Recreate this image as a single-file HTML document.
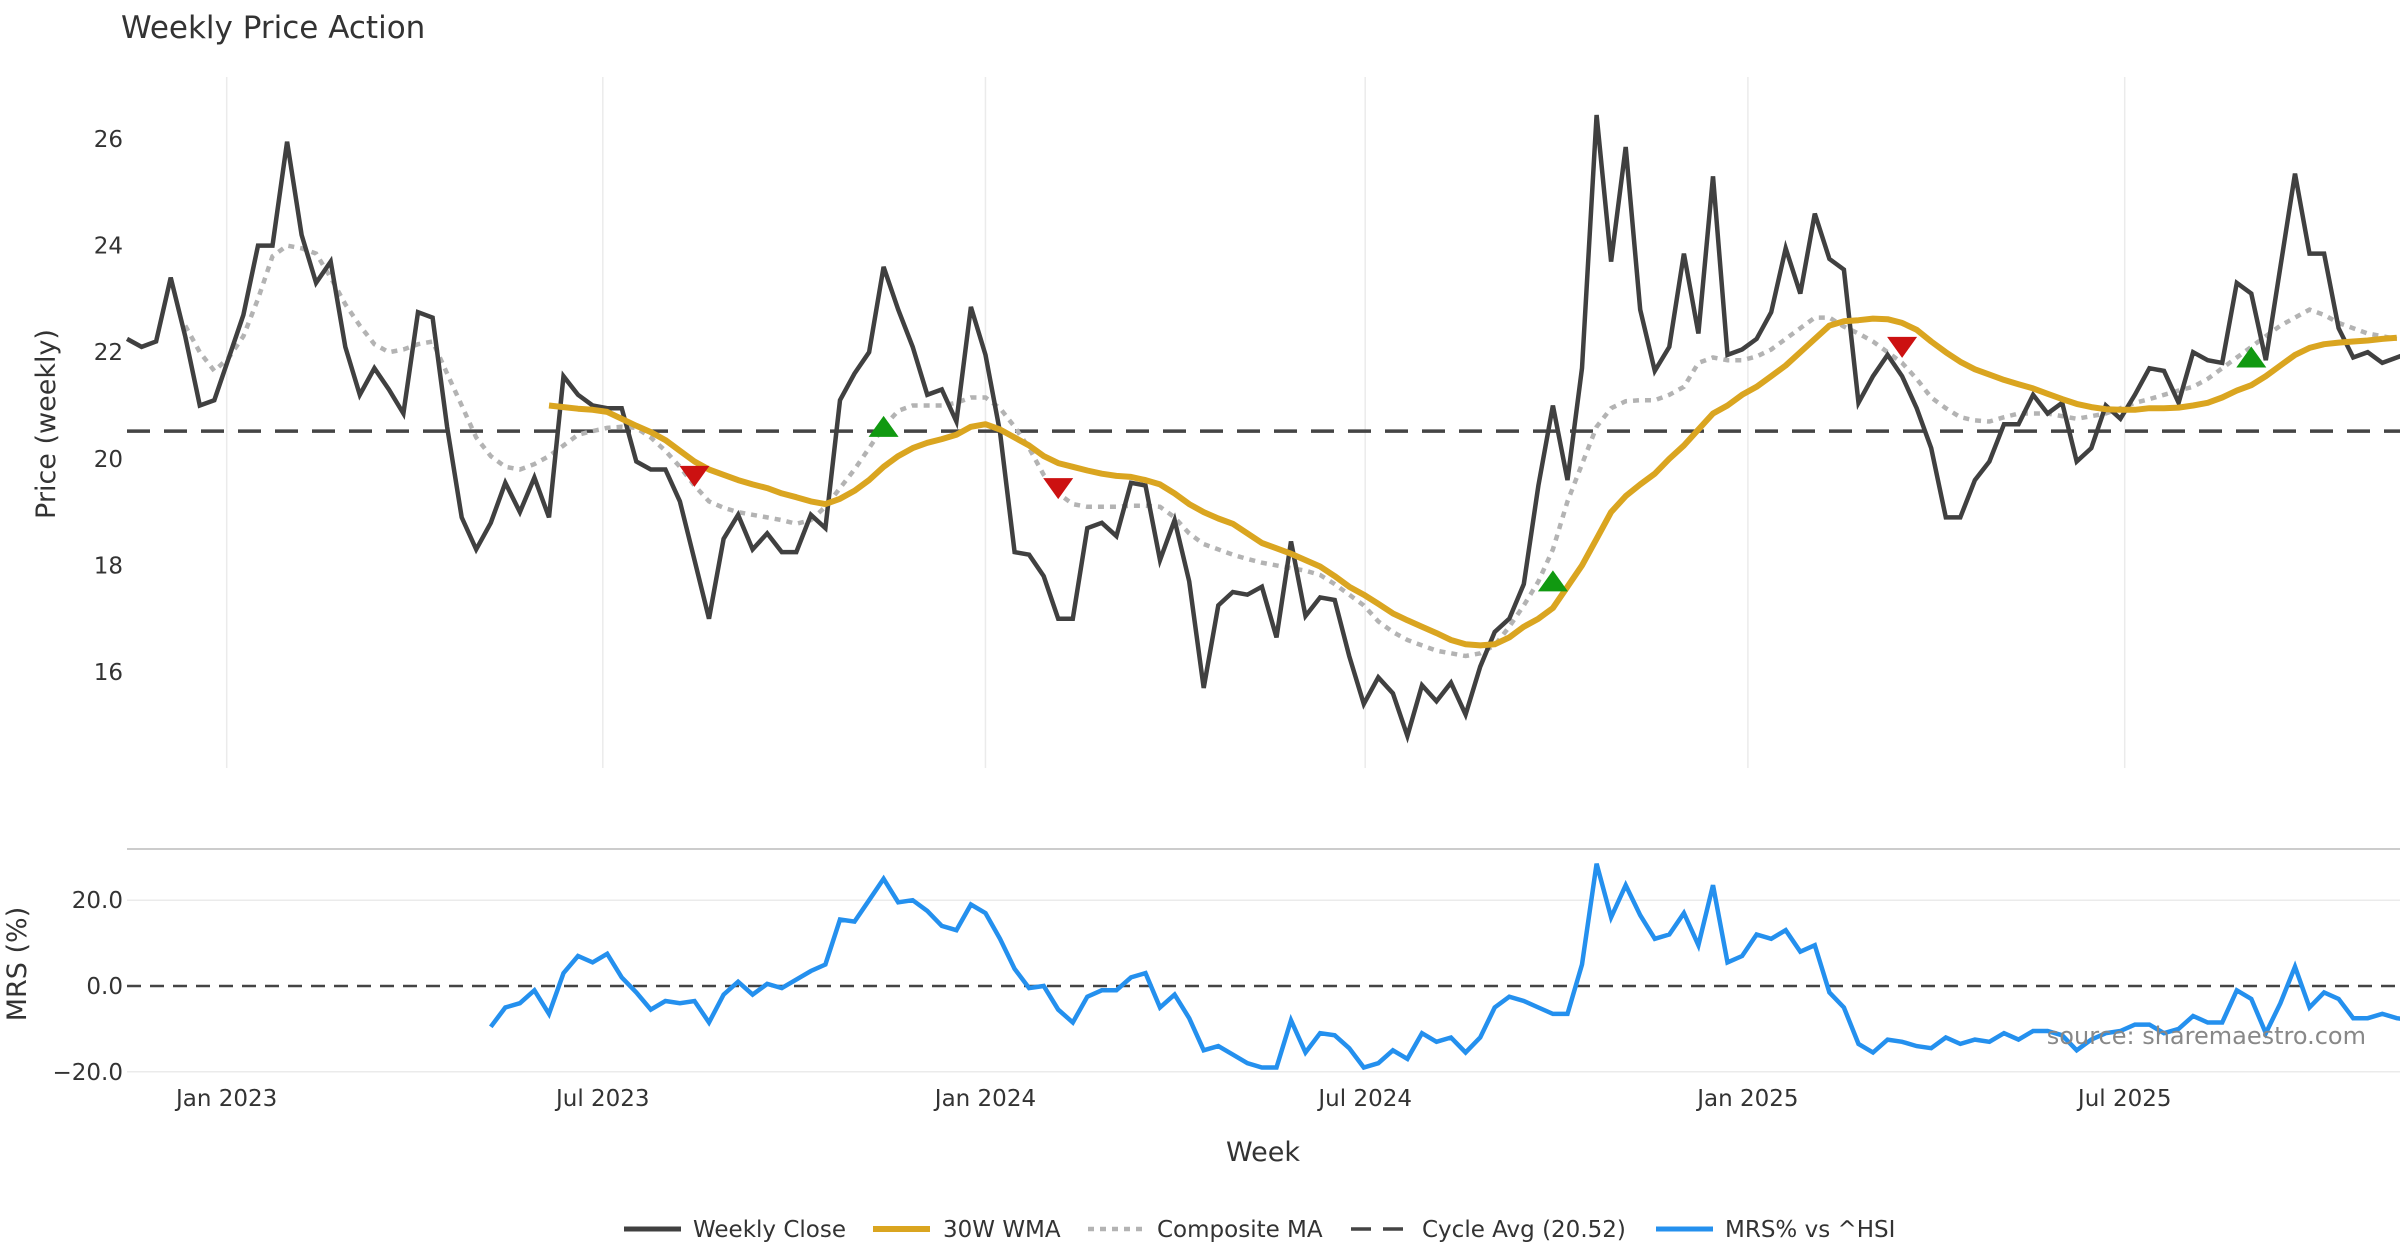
<!DOCTYPE html>
<html><head><meta charset="utf-8"><style>
html,body{margin:0;padding:0;background:#fff;}
svg{display:block;font-family:"DejaVu Sans","Liberation Sans",sans-serif;}
</style></head><body>
<svg id="chart" width="2400" height="1260" viewBox="0 0 2400 1260" xmlns="http://www.w3.org/2000/svg">
<text x="121" y="38" font-size="31" fill="#333">Weekly Price Action</text>
<g id="grid"></g><g id="series"></g><g id="axes"></g>
</svg>
<script>
const closeVals=[22.25,22.1,22.2,23.4,22.3,21.0,21.1,21.9,22.7,24.0,24.0,25.95,24.2,23.3,23.7,22.1,21.2,21.7,21.3,20.85,22.75,22.65,20.6,18.9,18.3,18.8,19.55,19.0,19.65,18.9,21.55,21.2,21.0,20.95,20.95,19.95,19.8,19.8,19.2,18.1,17.0,18.5,18.95,18.3,18.6,18.25,18.25,18.95,18.7,21.1,21.6,22.0,23.6,22.8,22.1,21.2,21.3,20.7,22.85,21.95,20.5,18.25,18.2,17.8,17.0,17.0,18.7,18.8,18.55,19.55,19.5,18.1,18.85,17.7,15.7,17.25,17.5,17.45,17.6,16.65,18.45,17.05,17.4,17.35,16.3,15.4,15.9,15.6,14.8,15.75,15.45,15.8,15.2,16.1,16.75,17.0,17.65,19.5,21.0,19.6,21.7,26.45,23.7,25.85,22.8,21.65,22.1,23.85,22.35,25.3,21.95,22.05,22.25,22.75,23.95,23.1,24.6,23.75,23.55,21.05,21.55,21.95,21.55,20.95,20.2,18.9,18.9,19.6,19.95,20.65,20.65,21.2,20.85,21.05,19.95,20.2,21.0,20.75,21.2,21.7,21.65,21.05,22.0,21.85,21.8,23.3,23.1,21.85,23.6,25.35,23.85,23.85,22.45,21.9,22.0,21.8,21.9,22.0];
const wmaStart=29;
const wmaVals=[21.0,20.97,20.94,20.92,20.88,20.75,20.62,20.5,20.35,20.15,19.95,19.8,19.7,19.6,19.52,19.45,19.35,19.28,19.2,19.15,19.25,19.4,19.6,19.85,20.05,20.2,20.3,20.37,20.45,20.6,20.65,20.55,20.4,20.25,20.05,19.92,19.85,19.78,19.72,19.68,19.66,19.6,19.52,19.35,19.15,19.0,18.88,18.78,18.6,18.42,18.32,18.22,18.1,17.98,17.8,17.6,17.45,17.28,17.1,16.97,16.85,16.73,16.6,16.52,16.5,16.52,16.65,16.85,17.0,17.2,17.6,18.0,18.5,19.0,19.3,19.52,19.72,20.0,20.25,20.55,20.85,21.0,21.2,21.35,21.55,21.75,22.0,22.25,22.5,22.58,22.6,22.63,22.62,22.55,22.42,22.2,22.0,21.82,21.68,21.58,21.48,21.4,21.32,21.22,21.12,21.03,20.97,20.93,20.92,20.92,20.95,20.95,20.96,21.0,21.05,21.15,21.28,21.38,21.55,21.75,21.95,22.08,22.15,22.18,22.2,22.22,22.25,22.27];
const compStart=4;
const compVals=[22.5,22.0,21.65,21.9,22.3,23.0,23.8,24.0,23.95,23.85,23.4,22.9,22.5,22.15,22.0,22.05,22.15,22.2,21.6,21.0,20.4,20.05,19.85,19.8,19.9,20.05,20.25,20.45,20.52,20.58,20.6,20.58,20.4,20.15,19.85,19.5,19.2,19.08,19.0,18.95,18.9,18.85,18.78,18.85,19.1,19.45,19.8,20.2,20.6,20.9,21.0,21.0,21.0,21.05,21.15,21.15,20.95,20.6,20.2,19.7,19.35,19.15,19.1,19.1,19.1,19.12,19.12,19.1,18.9,18.6,18.4,18.3,18.2,18.12,18.05,18.0,17.95,17.9,17.82,17.65,17.45,17.25,16.95,16.75,16.6,16.5,16.4,16.35,16.3,16.35,16.5,16.85,17.25,17.7,18.3,19.2,19.9,20.6,20.95,21.08,21.1,21.1,21.2,21.35,21.8,21.9,21.85,21.85,21.92,22.05,22.25,22.45,22.65,22.65,22.48,22.35,22.2,22.0,21.8,21.5,21.15,20.95,20.78,20.72,20.7,20.78,20.85,20.85,20.85,20.8,20.75,20.8,20.85,20.95,21.05,21.12,21.2,21.28,21.35,21.5,21.7,21.9,22.1,22.3,22.5,22.65,22.8,22.7,22.55,22.45,22.35,22.3,22.25];
const cycleAvg=20.52;
const mrsStart=25;
const mrsVals=[-9.5,-5,-4,-1,-6.5,3,7,5.5,7.5,2,-1.5,-5.5,-3.5,-4,-3.5,-8.5,-2,1,-2,0.5,-0.5,1.5,3.5,5,15.5,15,20,25,19.5,20,17.5,14,13,19,17,11,4,-0.5,0,-5.5,-8.5,-2.5,-1,-1,2,3,-5,-2,-7.5,-15,-14,-16,-18,-19,-19,-8,-15.5,-11,-11.5,-14.5,-19,-18,-15,-17,-11,-13,-12,-15.5,-12,-5,-2.5,-3.5,-5,-6.5,-6.5,5,28.5,16,23.5,16.5,11,12,17,9.5,23.5,5.5,7,12,11,13,8,9.5,-1.5,-5,-13.5,-15.5,-12.5,-13,-14,-14.5,-12,-13.5,-12.5,-13,-11,-12.5,-10.5,-10.5,-11.5,-15,-12.5,-11,-10.5,-9,-9,-11,-10,-7,-8.5,-8.5,-1,-3,-11,-4,4.5,-5,-1.5,-3,-7.5,-7.5,-6.5,-7.5,-8];
const sellIdx=[39,64,122];
const sellVals=[19.68,19.45,22.1];
const buyIdx=[52,98,146];
const buyVals=[20.6,17.7,21.9];
const priceTicks=[16,18,20,22,24,26];
const mrsTicks=[-20,0,20];
const mrsTickLabels=["\u221220.0","0.0","20.0"];
const xTickWeeks=[6.85,32.7,59.0,85.1,111.4,137.3];
const xTickLabels=["Jan 2023","Jul 2023","Jan 2024","Jul 2024","Jan 2025","Jul 2025"];

const NS="http://www.w3.org/2000/svg";
const X0=127,DX=14.55;
const xs=i=>X0+DX*i;
const yp=v=>672-(v-16)*53.3;
const ym=v=>986-v*4.29;
function mk(tag,attrs,parent){const e=document.createElementNS(NS,tag);for(const k in attrs)e.setAttribute(k,attrs[k]);document.getElementById(parent).appendChild(e);return e;}
function pts(start,vals,yf){return vals.map((v,j)=>xs(start+j).toFixed(1)+","+yf(v).toFixed(1)).join(" ");}

xTickWeeks.forEach((w,k)=>{
  const g=mk('line',{x1:xs(w),x2:xs(w),y1:77,y2:768,stroke:'#ebebeb','stroke-width':1.5},'grid');
  
  
  const t=mk('text',{x:xs(w),y:1106,'font-size':23,fill:'#333','text-anchor':'middle'},'axes');
  t.textContent=xTickLabels[k];
  
  
});
priceTicks.forEach(v=>{
  const t=mk('text',{x:123,y:yp(v)+8,'font-size':23,fill:'#333','text-anchor':'end'},'axes');
  t.textContent=v;
  
  
});
mrsTicks.forEach((v,k)=>{
  if(v!==0){const g=mk('line',{x1:127,x2:2400,y1:ym(v),y2:ym(v),stroke:'#ebebeb','stroke-width':1.5},'grid');
  
  }
  const t=mk('text',{x:123,y:ym(v)+8,'font-size':23,fill:'#333','text-anchor':'end'},'axes');
  t.textContent=mrsTickLabels[k];
  
  
});
let sep=mk('line',{x1:127,x2:2400,y1:849,y2:849,stroke:'#cccccc','stroke-width':2},'grid');



let ca=mk('line',{x1:127,x2:2400,y1:yp(cycleAvg),y2:yp(cycleAvg),stroke:'#444','stroke-width':3.5,'stroke-dasharray':'23,14'},'series');


let z=mk('line',{x1:127,x2:2400,y1:ym(0),y2:ym(0),stroke:'#444','stroke-width':2.5,'stroke-dasharray':'14,9'},'series');



let comp=mk('polyline',{points:pts(compStart,compVals,yp),fill:'none',stroke:'#b3b3b3','stroke-width':4.5,'stroke-dasharray':'6,6'},'series');


let cl=mk('polyline',{points:pts(0,closeVals,yp),fill:'none',stroke:'#404040','stroke-width':4.5,'stroke-linejoin':'miter'},'series');


let wm=mk('polyline',{points:pts(wmaStart,wmaVals,yp),fill:'none',stroke:'#DAA520','stroke-width':6,'stroke-linejoin':'round'},'series');


let mr=mk('polyline',{points:pts(mrsStart,mrsVals,ym),fill:'none',stroke:'#2490ee','stroke-width':4.5},'series');



sellIdx.forEach((w,k)=>{const x=xs(w),y=yp(sellVals[k]);
  const p=mk('polygon',{points:`${x-15},${y-10} ${x+15},${y-10} ${x},${y+11}`,fill:'#cc1111'},'series');
  
  });
buyIdx.forEach((w,k)=>{const x=xs(w),y=yp(buyVals[k]);
  const p=mk('polygon',{points:`${x-15},${y+10} ${x+15},${y+10} ${x},${y-11}`,fill:'#119911'},'series');
  
  });
</script>
<svg style="position:absolute;left:0;top:0" width="2400" height="1260" viewBox="0 0 2400 1260" font-family="DejaVu Sans, Liberation Sans, sans-serif">
<text transform="translate(55,424) rotate(-90)" text-anchor="middle" font-size="27" fill="#333">Price (weekly)</text>
<text transform="translate(26,964) rotate(-90)" text-anchor="middle" font-size="27" fill="#333">MRS (%)</text>
<text x="1263" y="1161" text-anchor="middle" font-size="27" fill="#333">Week</text>
<text x="2366" y="1044" text-anchor="end" font-size="24" fill="#888">source: sharemaestro.com</text>
<g font-size="23" fill="#333">
<line x1="624" x2="681" y1="1229" y2="1229" stroke="#404040" stroke-width="5"/>
<text x="693" y="1237">Weekly Close</text>
<line x1="873" x2="930" y1="1229" y2="1229" stroke="#DAA520" stroke-width="6"/>
<text x="943" y="1237">30W WMA</text>
<line x1="1088" x2="1145" y1="1229" y2="1229" stroke="#b3b3b3" stroke-width="4.5" stroke-dasharray="6,6"/>
<text x="1157" y="1237">Composite MA</text>
<line x1="1351" x2="1408" y1="1229" y2="1229" stroke="#444" stroke-width="3.5" stroke-dasharray="20,12"/>
<text x="1422" y="1237">Cycle Avg (20.52)</text>
<line x1="1656" x2="1713" y1="1229" y2="1229" stroke="#2490ee" stroke-width="5"/>
<text x="1725" y="1237">MRS% vs ^HSI</text>
</g>
</svg>
</body></html>
